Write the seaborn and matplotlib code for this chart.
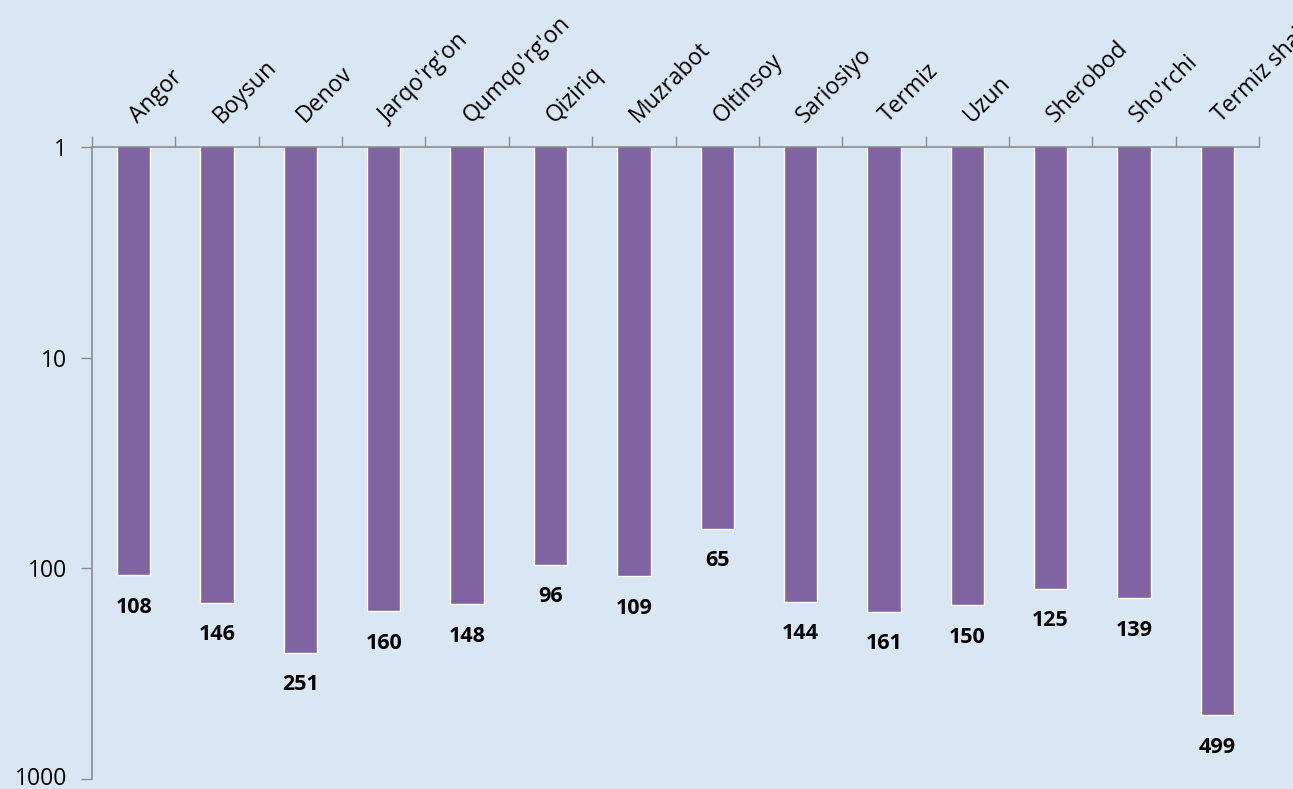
import numpy as np
import pandas as pd
import matplotlib
matplotlib.use("Agg")
import matplotlib.pyplot as plt
import matplotlib.transforms as mtransforms
import seaborn as sns

districts = ["Angor", "Boysun", "Denov", "Jarqo'rg'on", "Qumqo'rg'on", "Qiziriq",
             "Muzrabot", "Oltinsoy", "Sariosiyo", "Termiz", "Uzun", "Sherobod",
             "Sho'rchi", "Termiz shahri"]
counts = [108, 146, 251, 160, 148, 96, 109, 65, 144, 161, 150, 125, 139, 499]
y_ticks = [1, 10, 100, 1000]

BG = "#D9E6F4"
BAR = "#8064A2"
AXIS = "#8C8C8C"

sns.set_theme(style="white")
plt.rcParams["font.family"] = ["Open Sans", "DejaVu Sans"]

df = pd.DataFrame({"district": districts, "count": counts})

fig = plt.figure(figsize=(12.93, 7.89), dpi=100)
fig.patch.set_facecolor(BG)
ax = fig.add_axes([0.0712, 0.0127, 0.9025, 0.801])
ax.set_facecolor(BG)

sns.barplot(data=df, x="district", y="count", color=BAR, width=0.4,
            edgecolor="white", linewidth=1, saturation=1, ax=ax)

ax.set_yscale("log")
ax.set_ylim(1000, 1)
ax.set_xlim(-0.5, len(districts) - 0.5)
ax.set_yticks(y_ticks)
ax.set_yticklabels([str(t) for t in y_ticks], fontsize=16.5, color="black")
ax.yaxis.set_minor_locator(matplotlib.ticker.NullLocator())
ax.tick_params(axis="y", which="major", length=8, width=1, color=AXIS,
               direction="out", left=True, pad=10)
# bottom label sits low, like the original, but stays inside the figure
last = ax.get_yticklabels()[-1]
last.set_va("baseline")
last.set_transform(last.get_transform() +
                   mtransforms.ScaledTranslation(0, -0.06, fig.dpi_scale_trans))

# category labels on top (drawn as annotations), ticks between categories
ax.xaxis.tick_top()
ax.set_xticks(range(len(districts)))
ax.set_xticklabels([""] * len(districts))
ax.set_xticks(np.arange(-0.5, len(districts)), minor=True)
ax.tick_params(axis="x", which="major", length=0, top=True, bottom=False)
ax.tick_params(axis="x", which="minor", length=8, width=1, color=AXIS,
               direction="out", top=True, bottom=False)
for i, name in enumerate(districts):
    ax.annotate(name, (i, 1), xytext=(3, 17), textcoords="offset points",
                rotation=45, rotation_mode="anchor", ha="left", va="baseline",
                fontsize=16.5, color="black", annotation_clip=False)
ax.set_xlabel("")
ax.set_ylabel("")

for side in ["right", "bottom"]:
    ax.spines[side].set_visible(False)
for side in ["left", "top"]:
    ax.spines[side].set_color(AXIS)
    ax.spines[side].set_linewidth(1.2)

for i, v in enumerate(counts):
    ax.annotate(str(v), (i, v), xytext=(0, -23), textcoords="offset points",
                ha="center", va="center", fontsize=15.5, fontweight="bold",
                color="black")

fig.savefig("out.png", dpi=100, facecolor=BG)
